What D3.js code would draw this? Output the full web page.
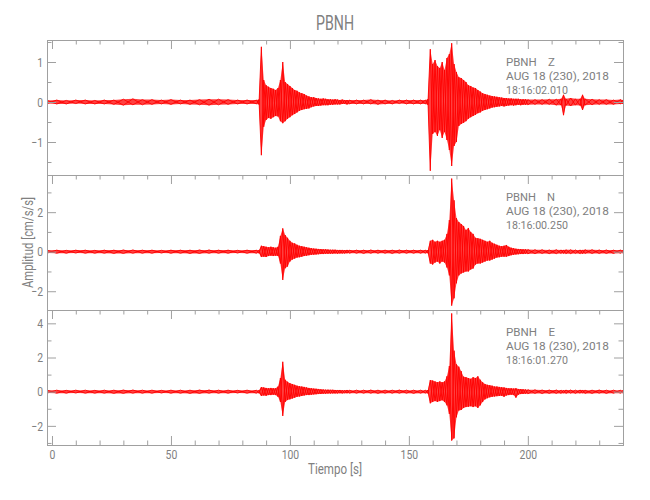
<!DOCTYPE html>
<html><head><meta charset="utf-8">
<script src="https://cdn.jsdelivr.net/npm/d3@7"></script>
<style>
html,body{margin:0;padding:0;background:#fff;}
svg{display:block;}
text{font-family:Roboto,"Liberation Sans",sans-serif;fill:#808080;}
</style></head>
<body><svg id="chart" width="650" height="500"></svg>
<script>
// ---- DATA ----
const title = "PBNH";
const xLabel = "Tiempo [s]";
const yLabel = "Amplitud [cm/s/s]";
const xDomain = [-2.1, 240];
const xMajorTicks = [0, 50, 100, 150, 200];
const xMinorTicks = [10,20,30,40,60,70,80,90,110,120,130,140,160,170,180,190,210,220,230,240];
const components = ["Z", "N", "E"];
const stampDate = "AUG 18 (230), 2018";
const stampTimes = ["18:16:02.010", "18:16:00.250", "18:16:01.270"];
const yDomains = [[-1.825, 1.55], [-2.95, 3.88], [-3.12, 4.78]];
const yMajorTicks = [[-1, 0, 1], [-2, 0, 2], [-2, 0, 2, 4]];
const yMinorTicks = [[-1.5, -0.5, 0.5, 1.5], [-1, 1, 3], [-3, -1, 1, 3]];

// sample times (s) of the envelope readings
const time = [-2,2,6,10,14,18,22,26,30,34,38,42,46,50,54,58,62,66,70,74,78,82,86,
87,88,89,90,91,92,93,94,95,96,97,98,99,100,101,102,103,104,105,106,107,108,109,110,111,112,113,114,115,116,117,118,119,120,121,122,123,124,125,
128,131,134,137,140,143,146,149,152,155,
157,158,159,160,161,162,163,164,165,166,167,168,169,170,171,172,173,174,175,176,177,178,179,180,181,182,183,184,185,186,187,188,189,190,191,192,193,194,195,196,197,198,199,200,
203,206,209,212,214,215,216,218,220,222,223,224,227,230,233,236,239,240];

// Z component: upper / lower envelope (cm/s/s)
const zUpper = [0.04,0.05,0.04,0.05,0.05,0.04,0.05,0.05,0.07,0.08,0.06,0.06,0.05,0.06,0.05,0.05,0.06,0.07,0.07,0.06,0.05,0.05,0.05,
0.06,1.38,0.55,0.42,0.38,0.35,0.33,0.30,0.35,0.55,
1.00,0.50,0.45,0.40,0.35,0.30,0.28,0.24,0.22,0.20,
0.16,0.14,0.12,0.12,0.10,0.09,0.08,0.09,0.08,0.07,
0.07,0.06,0.07,0.06,0.05,0.06,0.05,0.05,0.05,
0.05,0.05,0.06,0.05,0.05,0.04,0.05,0.05,0.05,0.05,
0.05,0.07,1.32,0.95,1.05,0.90,0.85,1.00,0.80,1.10,
1.20,1.47,0.95,0.75,0.62,0.60,0.55,0.50,0.42,0.40,
0.36,0.35,0.30,0.26,0.22,0.20,0.18,0.16,0.15,0.14,
0.13,0.12,0.11,0.10,0.10,0.09,0.09,0.08,0.08,0.08,
0.07,0.07,0.07,0.06,
0.06,0.06,0.07,0.07,0.08,0.18,0.08,0.10,0.08,0.08,0.18,0.08,0.07,0.06,0.06,0.05,0.06,0.05];
const zLower = [-0.04,-0.05,-0.05,-0.04,-0.05,-0.05,-0.05,-0.06,-0.08,-0.07,-0.07,-0.06,-0.05,-0.06,-0.05,-0.06,-0.07,-0.08,-0.07,-0.06,-0.05,-0.05,-0.05,
-0.06,-1.33,-0.62,-0.45,-0.40,-0.42,-0.38,-0.35,-0.36,-0.48,
-0.53,-0.48,-0.42,-0.38,-0.33,-0.30,-0.26,-0.22,-0.20,-0.18,
-0.17,-0.16,-0.13,-0.11,-0.10,-0.10,-0.09,-0.08,-0.08,-0.08,
-0.07,-0.07,-0.06,-0.06,-0.06,-0.05,-0.05,-0.06,-0.05,
-0.05,-0.05,-0.05,-0.06,-0.05,-0.05,-0.04,-0.05,-0.05,-0.05,
-0.05,-0.07,-1.72,-0.80,-0.75,-0.85,-0.70,-0.90,-0.75,-0.95,
-1.20,-1.60,-1.10,-1.00,-0.60,-0.55,-0.52,-0.48,-0.42,-0.38,
-0.35,-0.32,-0.28,-0.26,-0.22,-0.20,-0.18,-0.16,-0.14,-0.13,
-0.12,-0.11,-0.10,-0.11,-0.10,-0.09,-0.08,-0.09,-0.08,-0.07,
-0.08,-0.07,-0.07,-0.07,
-0.06,-0.06,-0.06,-0.08,-0.08,-0.33,-0.09,-0.10,-0.08,-0.09,-0.20,-0.08,-0.07,-0.06,-0.06,-0.06,-0.05,-0.05];

// N component
const nUpper = [0.07,0.08,0.07,0.08,0.08,0.07,0.08,0.08,0.09,0.09,0.08,0.08,0.07,0.08,0.08,0.08,0.09,0.09,0.08,0.08,0.07,0.08,0.08,
0.08,0.30,0.28,0.25,0.22,0.25,0.22,0.20,0.25,0.80,
1.18,0.84,0.70,0.55,0.45,0.42,0.35,0.30,0.28,0.25,
0.22,0.20,0.18,0.16,0.15,0.14,0.13,0.12,0.12,0.11,
0.10,0.10,0.10,0.09,0.09,0.09,0.08,0.09,0.08,
0.08,0.08,0.09,0.08,0.08,0.08,0.09,0.08,0.08,0.08,
0.08,0.08,0.55,0.60,0.50,0.55,0.50,0.55,0.60,0.90,
1.60,3.70,2.60,1.70,1.50,1.40,1.30,1.10,1.20,1.00,
0.90,0.70,0.68,0.65,0.60,0.55,0.50,0.55,0.45,0.40,
0.35,0.30,0.28,0.30,0.34,0.25,0.20,0.18,0.15,0.14,
0.13,0.12,0.12,0.11,
0.10,0.10,0.09,0.10,0.09,0.09,0.10,0.10,0.09,0.09,0.09,0.10,0.10,0.09,0.09,0.08,0.09,0.08];
const nLower = [-0.07,-0.08,-0.08,-0.07,-0.08,-0.08,-0.08,-0.09,-0.09,-0.08,-0.08,-0.08,-0.07,-0.08,-0.08,-0.09,-0.09,-0.08,-0.08,-0.08,-0.07,-0.08,-0.08,
-0.08,-0.27,-0.25,-0.27,-0.22,-0.20,-0.22,-0.20,-0.22,-0.60,
-1.43,-0.84,-0.75,-0.50,-0.40,-0.35,-0.30,-0.28,-0.25,-0.22,
-0.20,-0.18,-0.16,-0.15,-0.14,-0.13,-0.12,-0.12,-0.11,-0.11,
-0.10,-0.10,-0.09,-0.10,-0.09,-0.09,-0.09,-0.08,-0.08,
-0.08,-0.09,-0.08,-0.08,-0.08,-0.09,-0.08,-0.08,-0.08,-0.08,
-0.08,-0.08,-0.60,-0.65,-0.55,-0.50,-0.60,-0.50,-0.55,-0.80,
-1.20,-2.73,-2.36,-1.60,-1.20,-1.10,-1.05,-1.00,-1.00,-0.90,
-0.85,-0.65,-0.60,-0.60,-0.55,-0.50,-0.45,-0.45,-0.40,-0.35,
-0.30,-0.28,-0.25,-0.25,-0.25,-0.22,-0.18,-0.16,-0.14,-0.13,
-0.12,-0.12,-0.11,-0.11,
-0.10,-0.09,-0.10,-0.10,-0.09,-0.09,-0.10,-0.10,-0.09,-0.10,-0.10,-0.09,-0.09,-0.09,-0.09,-0.09,-0.08,-0.08];

// E component
const eUpper = [0.08,0.09,0.08,0.09,0.09,0.08,0.09,0.09,0.10,0.10,0.09,0.09,0.08,0.09,0.09,0.09,0.10,0.10,0.09,0.09,0.08,0.09,0.09,
0.09,0.27,0.25,0.22,0.20,0.22,0.20,0.20,0.30,0.80,
1.75,0.70,0.58,0.50,0.45,0.40,0.35,0.32,0.30,0.28,
0.25,0.22,0.20,0.18,0.17,0.16,0.14,0.13,0.12,0.12,
0.11,0.11,0.10,0.10,0.10,0.09,0.09,0.10,0.09,
0.09,0.09,0.10,0.09,0.09,0.09,0.10,0.09,0.09,0.09,
0.09,0.10,0.68,0.65,0.60,0.55,0.60,0.55,0.60,0.90,
1.50,4.58,2.40,1.60,1.46,1.20,0.88,0.85,0.80,0.75,
0.85,0.80,0.90,0.70,0.55,0.45,0.40,0.38,0.35,0.30,
0.30,0.28,0.26,0.25,0.22,0.20,0.20,0.18,0.20,0.16,
0.15,0.14,0.13,0.12,
0.11,0.10,0.10,0.10,0.09,0.09,0.10,0.10,0.09,0.10,0.10,0.09,0.09,0.10,0.09,0.09,0.09,0.09];
const eLower = [-0.08,-0.09,-0.09,-0.08,-0.09,-0.09,-0.09,-0.10,-0.10,-0.09,-0.09,-0.09,-0.08,-0.09,-0.09,-0.10,-0.10,-0.09,-0.09,-0.09,-0.08,-0.09,-0.09,
-0.09,-0.25,-0.22,-0.24,-0.20,-0.20,-0.18,-0.20,-0.30,-0.60,
-1.42,-0.60,-0.49,-0.45,-0.40,-0.35,-0.30,-0.28,-0.25,-0.22,
-0.20,-0.20,-0.18,-0.16,-0.15,-0.14,-0.13,-0.12,-0.12,-0.11,
-0.11,-0.10,-0.10,-0.10,-0.09,-0.10,-0.09,-0.09,-0.09,
-0.09,-0.09,-0.09,-0.10,-0.09,-0.09,-0.09,-0.09,-0.10,-0.09,
-0.09,-0.10,-0.68,-0.60,-0.55,-0.60,-0.55,-0.50,-0.60,-0.80,
-1.30,-2.86,-2.73,-1.50,-1.10,-1.07,-0.95,-0.90,-0.88,-0.85,
-0.90,-0.85,-0.95,-0.80,-0.60,-0.45,-0.38,-0.33,-0.30,-0.28,
-0.26,-0.25,-0.24,-0.30,-0.22,-0.20,-0.18,-0.20,-0.35,-0.18,
-0.14,-0.13,-0.12,-0.12,
-0.10,-0.11,-0.10,-0.10,-0.10,-0.09,-0.10,-0.09,-0.10,-0.09,-0.09,-0.10,-0.10,-0.09,-0.10,-0.09,-0.09,-0.09];

const uppers = [zUpper, nUpper, eUpper];
const lowers = [zLower, nLower, eLower];

// ---- LAYOUT ----
const padL = 47, padR = 623, padT = 40, panelH = 135;
const axisColor = "#a0a0a0", textColor = "#858585", traceColor = "#ff0000";
const majorLen = 9, minorLen = 4.5;
const fontFam = 'Roboto,"Liberation Sans",sans-serif';

[uppers, lowers].flat().forEach((a, i) => {
  if (a.length !== time.length) throw new Error("length mismatch " + i + ": " + a.length + " vs " + time.length);
});

const svg = d3.select("#chart");
const x = d3.scaleLinear().domain(xDomain).range([padL, padR]);
const fmt = d => d < 0 ? "\u2212" + Math.abs(d) : String(d);

// text placed in a group, squeezed horizontally to a target width (narrow plotter font look)
function fitText(parent, tx, ty, str, size, targetW, anchor, rotate) {
  const g = parent.append("g");
  const inner = g.append("g");
  const t = inner.append("text").attr("text-anchor", anchor || "start")
    .style("font-size", size + "px").style("font-family", fontFam).attr("fill", textColor)
    .style("white-space", "pre").text(str);
  const w = t.node().getComputedTextLength();
  const sx = targetW / w;
  g.attr("transform", `translate(${tx},${ty})` + (rotate ? ` rotate(${rotate})` : ""));
  inner.attr("transform", `scale(${sx},1)`);
  return t;
}

fitText(svg, (padL + padR) / 2, 30, title, 20, 38, "middle");

components.forEach((comp, p) => {
  const y0 = padT + p * panelH, y1 = y0 + panelH;
  const y = d3.scaleLinear().domain(yDomains[p]).range([y1, y0]);
  const g = svg.append("g");
  const clipId = "clip" + p;
  svg.append("clipPath").attr("id", clipId).append("rect")
    .attr("x", padL).attr("y", y0).attr("width", padR - padL).attr("height", panelH);

  const up = uppers[p], lo = lowers[p];
  const idx = d3.range(time.length);
  const area = d3.area().x(i => x(time[i])).y0(i => y(lo[i])).y1(i => y(up[i]));
  g.append("path").attr("clip-path", `url(#${clipId})`)
    .attr("d", area(idx)).attr("fill", traceColor).attr("fill-opacity", 0.75).attr("stroke", "none");
  // two alternating traces through the extremes (crossing oscillation)
  [0, 1].forEach(par => {
    const zig = d3.line().x(i => x(time[i])).y(i => ((i + par) % 2 === 0) ? y(up[i]) : y(lo[i]));
    g.append("path").attr("clip-path", `url(#${clipId})`)
      .attr("d", zig(idx)).attr("fill", "none").attr("stroke", traceColor)
      .attr("stroke-width", 0.9).attr("stroke-linejoin", "miter").attr("stroke-miterlimit", 20);
  });

  svg.append("rect").attr("x", padL + 0.5).attr("y", y0 + 0.5)
    .attr("width", padR - padL).attr("height", panelH)
    .attr("fill", "none").attr("stroke", axisColor);

  const axes = [];
  axes.push(svg.append("g").attr("transform", `translate(${padL},0)`)
    .call(d3.axisLeft(y).tickValues(yMajorTicks[p]).tickSize(-majorLen).tickPadding(5).tickFormat(fmt)));
  axes.push(svg.append("g").attr("transform", `translate(${padL},0)`)
    .call(d3.axisLeft(y).tickValues(yMinorTicks[p]).tickSize(-minorLen).tickFormat("")));
  axes.push(svg.append("g").attr("transform", `translate(${padR},0)`)
    .call(d3.axisRight(y).tickValues(yMajorTicks[p]).tickSize(-majorLen).tickFormat("")));
  axes.push(svg.append("g").attr("transform", `translate(${padR},0)`)
    .call(d3.axisRight(y).tickValues(yMinorTicks[p]).tickSize(-minorLen).tickFormat("")));
  axes.push(svg.append("g").attr("transform", `translate(0,${y0})`)
    .call(d3.axisTop(x).tickValues(xMajorTicks).tickSize(-majorLen).tickFormat("")));
  axes.push(svg.append("g").attr("transform", `translate(0,${y0})`)
    .call(d3.axisTop(x).tickValues(xMinorTicks).tickSize(-minorLen).tickFormat("")));
  if (p === components.length - 1) {
    axes.push(svg.append("g").attr("transform", `translate(0,${y1})`)
      .call(d3.axisBottom(x).tickValues(xMajorTicks).tickSize(-majorLen).tickPadding(5)));
    axes.push(svg.append("g").attr("transform", `translate(0,${y1})`)
      .call(d3.axisBottom(x).tickValues(xMinorTicks).tickSize(-minorLen).tickFormat("")));
  }
  axes.forEach(a => {
    a.select(".domain").remove();
    a.selectAll("line").attr("stroke", axisColor);
    a.selectAll("text").attr("fill", textColor).style("font-size", "13px")
      .style("font-family", fontFam).attr("transform", "scale(0.8,1)");
  });

  fitText(svg, 506, y0 + 26, "PBNH    " + comp, 11.5, 49);
  fitText(svg, 506, y0 + 40, stampDate, 11.5, 103);
  fitText(svg, 506, y0 + 54, stampTimes[p], 11.5, 62);
});

fitText(svg, (padL + padR) / 2, 474, xLabel, 14, 54, "middle");
fitText(svg, 33, padT + 1.5 * panelH, yLabel, 14, 91, "middle", -90);
</script>
</body></html>
